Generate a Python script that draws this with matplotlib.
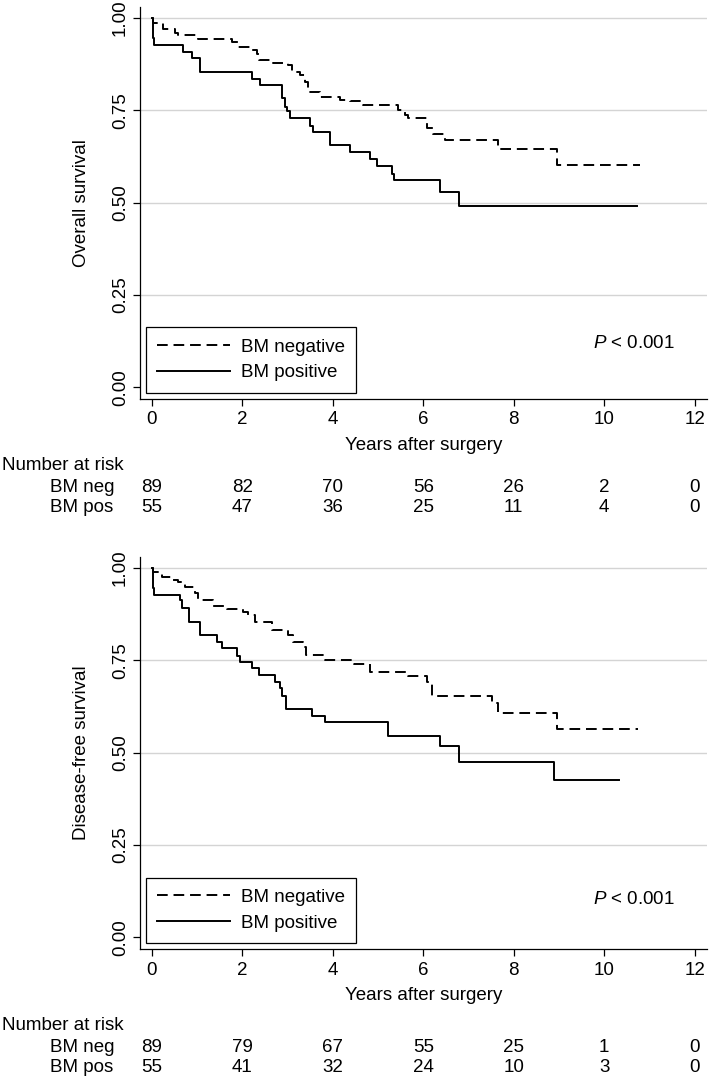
import matplotlib
matplotlib.use('Agg')
import matplotlib.pyplot as plt
import matplotlib.transforms as mtrans

plt.rcParams['font.family'] = ['Liberation Sans', 'DejaVu Sans']
plt.rcParams['mathtext.fontset'] = 'custom'
plt.rcParams['mathtext.it'] = 'Liberation Sans:italic'
plt.rcParams['mathtext.rm'] = 'Liberation Sans'

# overall survival
os_neg_t = [0, 0.02, 0.26, 0.51, 0.59, 1.03, 1.77, 1.91, 2.21, 2.32, 2.38, 2.69, 3.02, 3.09, 3.28,
            3.39, 3.46, 3.72, 4.16, 4.38, 4.68, 5.45, 5.60, 5.67, 6.08, 6.22, 6.48, 7.66, 8.95, 10.79]
os_neg_s = [1.0, 0.988, 0.970, 0.959, 0.955, 0.944, 0.934, 0.921, 0.914, 0.902, 0.887, 0.878, 0.872, 0.855, 0.847,
            0.828, 0.801, 0.787, 0.778, 0.774, 0.764, 0.751, 0.738, 0.728, 0.702, 0.686, 0.670, 0.645, 0.602, 0.602]
os_pos_t = [0, 0.02, 0.05, 0.70, 0.88, 1.07, 2.21, 2.39, 2.87, 2.95, 2.98, 3.06, 3.50, 3.57, 3.94,
            4.38, 4.82, 4.97, 5.30, 5.36, 6.36, 6.78, 10.72]
os_pos_s = [1.0, 0.946, 0.928, 0.909, 0.891, 0.855, 0.835, 0.819, 0.783, 0.760, 0.747, 0.729, 0.708, 0.691, 0.655,
            0.636, 0.618, 0.600, 0.578, 0.560, 0.530, 0.492, 0.492]

# disease-free survival
dfs_neg_t = [0, 0.02, 0.22, 0.44, 0.59, 0.74, 0.96, 1.03, 1.36, 1.66, 2.02, 2.13, 2.28, 2.65, 3.02,
             3.13, 3.35, 3.42, 3.83, 4.46, 4.82, 5.67, 6.08, 6.19, 7.51, 7.66, 8.95, 10.75]
dfs_neg_s = [1.0, 0.989, 0.976, 0.967, 0.962, 0.947, 0.931, 0.913, 0.897, 0.889, 0.881, 0.872, 0.854, 0.832, 0.818,
             0.798, 0.787, 0.764, 0.751, 0.740, 0.718, 0.706, 0.692, 0.652, 0.634, 0.607, 0.564, 0.564]
dfs_pos_t = [0, 0.02, 0.05, 0.63, 0.68, 0.83, 1.07, 1.44, 1.55, 1.88, 1.95, 2.21, 2.38, 2.72, 2.84,
             2.89, 2.96, 3.54, 3.83, 5.23, 6.36, 6.78, 8.88, 10.33]
dfs_pos_s = [1.0, 0.944, 0.926, 0.913, 0.890, 0.854, 0.818, 0.800, 0.782, 0.762, 0.745, 0.728, 0.710, 0.692, 0.674,
             0.654, 0.618, 0.600, 0.582, 0.544, 0.517, 0.474, 0.427, 0.427]

risk_times = [0, 2, 4, 6, 8, 10, 12]
os_risk_neg = [89, 82, 70, 56, 26, 2, 0]
os_risk_pos = [55, 47, 36, 25, 11, 4, 0]
dfs_risk_neg = [89, 79, 67, 55, 25, 1, 0]
dfs_risk_pos = [55, 41, 32, 24, 10, 3, 0]

W, H = 709, 1080
FS = 13.5
fig = plt.figure(figsize=(W / 100, H / 100), dpi=100)


def fy(py):
    return 1 - py / H


def panel(top, bottom, neg, pos, risk_neg, risk_pos, ylabel, rows):
    ax = fig.add_axes([140 / W, fy(bottom), (706.7 - 140) / W, (bottom - top) / H])
    ax.set_xlim(-0.259, 12.265)
    ax.set_ylim(-0.032, 1.030)
    for y in [0.25, 0.5, 0.75, 1.0]:
        ax.axhline(y, color='#d4d4d4', lw=1.0, zorder=0)
    ax.step(neg[0], neg[1], where='post', color='black', lw=1.4, ls=(0, (5.5, 3)), label='BM negative')
    ax.step(pos[0], pos[1], where='post', color='black', lw=1.4, label='BM positive')
    for s in ['top', 'right']:
        ax.spines[s].set_visible(False)
    for s in ['left', 'bottom']:
        ax.spines[s].set_linewidth(0.9)
    ax.set_xticks(risk_times)
    ax.set_yticks([0, 0.25, 0.5, 0.75, 1.0])
    ax.set_yticklabels(['0.00', '0.25', '0.50', '0.75', '1.00'], rotation=90, va='center')
    ax.tick_params(labelsize=FS, length=5, width=0.9, direction='out')
    ax.tick_params(axis='y', pad=3)
    ax.tick_params(axis='x', pad=4)
    ax.set_xlabel('Years after surgery', fontsize=FS, labelpad=6)
    ax.set_ylabel(ylabel, fontsize=FS)
    ax.yaxis.label.set(ha='center', va='center')
    ax.yaxis.set_label_coords(-(140 - 82) / (706.7 - 140), 0.5)
    leg = ax.legend(loc='lower left', bbox_to_anchor=(6 / 566.7, 6.5 / (bottom - top)), borderaxespad=0,
                    fontsize=FS, handlelength=3.9, handletextpad=0.55, fancybox=False, edgecolor='black',
                    framealpha=1, borderpad=0.6, labelspacing=0.45)
    leg.get_frame().set_linewidth(0.9)
    fig.text(593 / W, fy(rows[0]), '$P$ < 0.001', fontsize=FS, va='center', ha='left')

    # number-at-risk table under the axis
    tr = mtrans.blended_transform_factory(ax.transData, fig.transFigure)
    fig.text(2 / W, fy(rows[1]), 'Number at risk', fontsize=FS, va='center', ha='left')
    fig.text(50 / W, fy(rows[2]), 'BM neg', fontsize=FS, va='center', ha='left')
    fig.text(50 / W, fy(rows[3]), 'BM pos', fontsize=FS, va='center', ha='left')
    for t, a, b in zip(risk_times, risk_neg, risk_pos):
        ax.text(t, fy(rows[2]), str(a), fontsize=FS, va='center', ha='center', transform=tr, clip_on=False)
        ax.text(t, fy(rows[3]), str(b), fontsize=FS, va='center', ha='center', transform=tr, clip_on=False)
    return ax


panel(7, 399, (os_neg_t, os_neg_s), (os_pos_t, os_pos_s), os_risk_neg, os_risk_pos,
      'Overall survival', [344, 465, 487, 507])
panel(556.7, 949.3, (dfs_neg_t, dfs_neg_s), (dfs_pos_t, dfs_pos_s), dfs_risk_neg, dfs_risk_pos,
      'Disease-free survival', [900, 1025, 1047, 1068])

fig.savefig('out.png', dpi=100)
